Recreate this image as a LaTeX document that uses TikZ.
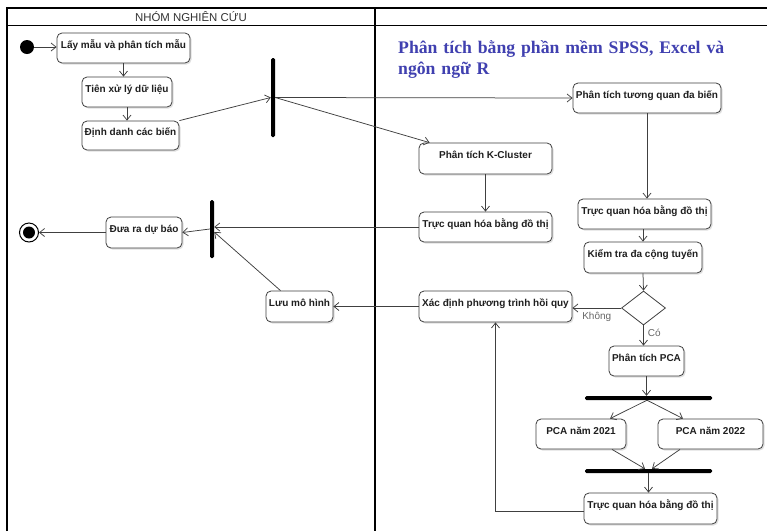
\documentclass[tikz,border=0pt]{standalone}
\usepackage{fontspec}
\setmainfont{Liberation Sans}
\newfontfamily\titlefont{Liberation Serif}
\usetikzlibrary{arrows.meta,shapes.geometric,shadows}
\definecolor{titleblue}{RGB}{64,64,176}
\tikzset{
  act/.style={draw=black!75, fill=white, rounded corners=5pt, line width=0.8pt,
    inner xsep=0pt, inner ysep=0pt, align=center, text=black!88,
    font=\bfseries\fontsize{10}{12}\selectfont,
    drop shadow={shadow xshift=1.5pt, shadow yshift=-1.5pt, fill=black!25, opacity=0.5}},
  vbar/.style={fill=black, rounded corners=1.5pt, inner sep=0pt, minimum width=4pt},
  hbar/.style={fill=black, rounded corners=1.5pt, inner sep=0pt, minimum height=4pt},
  flow/.style={draw=black!75, line width=0.75pt, -{Straight Barb[length=5pt,width=8pt]}},
  lane/.style={draw=black, line width=1.5pt},
  guard/.style={text=black!60, font=\fontsize{10}{12}\selectfont, inner sep=1pt}
}
\begin{document}
\begin{tikzpicture}[x=1pt,y=-1pt]
\useasboundingbox[fill=white] (0,0) rectangle (767,531);
% swimlanes
\draw[lane] (7,531) -- (7,8) -- (767,8);
\draw[lane] (375,8) -- (375,531);
\draw[lane, line width=1.2pt] (7,25.5) -- (767,25.5);
\node[text=black!80, font=\fontsize{11.4}{13}\selectfont] (hdr) at (191,17) {NHÓM NGHIÊN CỨU};
% title
\node[anchor=base west, inner sep=0pt, text width=360pt, align=left, text=titleblue,
  font=\titlefont\bfseries\fontsize{17.7}{21}\selectfont] (title) at (398,53.5)
  {Phân tích bằng phần mềm SPSS, Excel và\\ngôn ngữ R};
% start / end
\node[circle, fill=black, minimum size=14pt, inner sep=0pt] (start) at (27,47) {};
\node[circle, draw=black, line width=1pt, fill=white, minimum size=19pt, inner sep=0pt,
  path picture={\fill[black] (path picture bounding box.center) circle (6pt);}] (end) at (29,232.5) {};
% activities
\node[act, minimum width=133pt, text height=15pt, text depth=15pt] (lay) at (123.5,48) {Lấy mẫu và phân tích mẫu};
\node[act, minimum width=90pt, text height=15pt, text depth=15pt] (tien) at (127,92) {Tiên xử lý dữ liệu};
\node[act, minimum width=97pt, text height=14.5pt, text depth=14.5pt] (dinh) at (130.5,135.5) {Định danh các biến};
\node[act, minimum width=148pt, text height=15pt, text depth=15pt] (tuong) at (647,98) {Phân tích tương quan đa biến};
\node[act, minimum width=133pt, text height=15.5pt, text depth=15.5pt] (kcl) at (485.5,158.5) {Phân tích K-Cluster};
\node[act, minimum width=133pt, text height=15pt, text depth=15pt] (tq1) at (485.5,227) {Trực quan hóa bằng đồ thị};
\node[act, minimum width=133pt, text height=15pt, text depth=15pt] (tq2) at (644.5,214) {Trực quan hóa bằng đồ thị};
\node[act, minimum width=118pt, text height=15.5pt, text depth=15.5pt] (kiem) at (643,257.5) {Kiểm tra đa cộng tuyến};
\node[act, minimum width=153pt, text height=15.5pt, text depth=15.5pt] (xac) at (495.5,306.5) {Xác định phương trình hồi quy};
\node[act, minimum width=67pt, text height=15.5pt, text depth=15.5pt] (luu) at (299.5,306.5) {Lưu mô hình};
\node[act, minimum width=76pt, text height=15.5pt, text depth=15.5pt] (dua) at (144,232.5) {Đưa ra dự báo};
\node[act, minimum width=75pt, text height=15pt, text depth=15pt] (pca) at (646.5,361) {Phân tích PCA};
\node[act, minimum width=90pt, text height=15pt, text depth=15pt] (p21) at (581,434) {PCA năm 2021};
\node[act, minimum width=105pt, text height=15pt, text depth=15pt] (p22) at (710.5,434) {PCA năm 2022};
\node[act, minimum width=133pt, text height=15.5pt, text depth=15.5pt] (tq3) at (650.5,508.5) {Trực quan hóa bằng đồ thị};
% decision
\node[diamond, draw=black!75, line width=0.8pt, fill=white, inner sep=0pt, aspect=1.3,
  minimum width=44pt, minimum height=34pt] (dia) at (643.5,308) {};
% bars
\node[vbar, minimum height=79pt] (bar1) at (273,97.5) {};
\node[vbar, minimum height=58pt] (bar2) at (212,229) {};
\node[hbar, minimum width=127pt] (bar3) at (648.5,398) {};
\node[hbar, minimum width=127pt] (bar4) at (648.5,471) {};
% connectors
\draw[flow] (start) -- (lay.west |- start);
\draw[flow] (lay.south) -- (lay.south |- tien.north);
\draw[flow] (tien.south) -- (tien.south |- dinh.north);
\draw[flow] (dinh.north east) -- (bar1.west);
\draw[flow] (bar1.east) -- (tuong.west);
\draw[flow] (bar1.east) -- ([xshift=11pt]kcl.north west);
\draw[flow] (kcl.south) -- (tq1.north);
\draw[flow] (tq1.west) -- (tq1.west -| bar2.east);
\draw[flow] (bar2.west) -- (dua.east);
\draw[flow] (dua.west) -- (end.east);
\draw[flow] (xac.west) -- (luu.east);
\draw[flow] ([xshift=-19pt]luu.north) -- ([yshift=-3pt]bar2.east);
\draw[flow] (tuong.south) -- (tuong.south |- tq2.north);
\draw[flow] (kiem.north |- tq2.south) -- (kiem.north);
\draw[flow] (kiem.south) -- (dia.north);
\draw[flow] (dia.west) -- (dia.west -| xac.east) node[guard, midway, below=3pt] {Không};
\draw[flow] (dia.south) -- (dia.south |- pca.north) node[guard, pos=0.38, right=3pt] {Có};
\draw[flow] (pca.south) -- (pca.south |- bar3.north);
\draw[flow] ([xshift=-1.5pt]bar3.south) -- ([xshift=29pt]p21.north);
\draw[flow] ([xshift=-1.5pt]bar3.south) -- ([xshift=-27.5pt]p22.north);
\draw[flow] ([xshift=31pt]p21.south) -- ([xshift=-3.5pt]bar4.north);
\draw[flow] ([xshift=-30.5pt]p22.south) -- ([xshift=3.5pt]bar4.north);
\draw[flow] (bar4.south) -- (bar4.south |- tq3.north);
\draw[flow] ([yshift=-3pt]tq3.west) -- ([yshift=-3pt]tq3.west -| xac.south) -- (xac.south);
\end{tikzpicture}
\end{document}
